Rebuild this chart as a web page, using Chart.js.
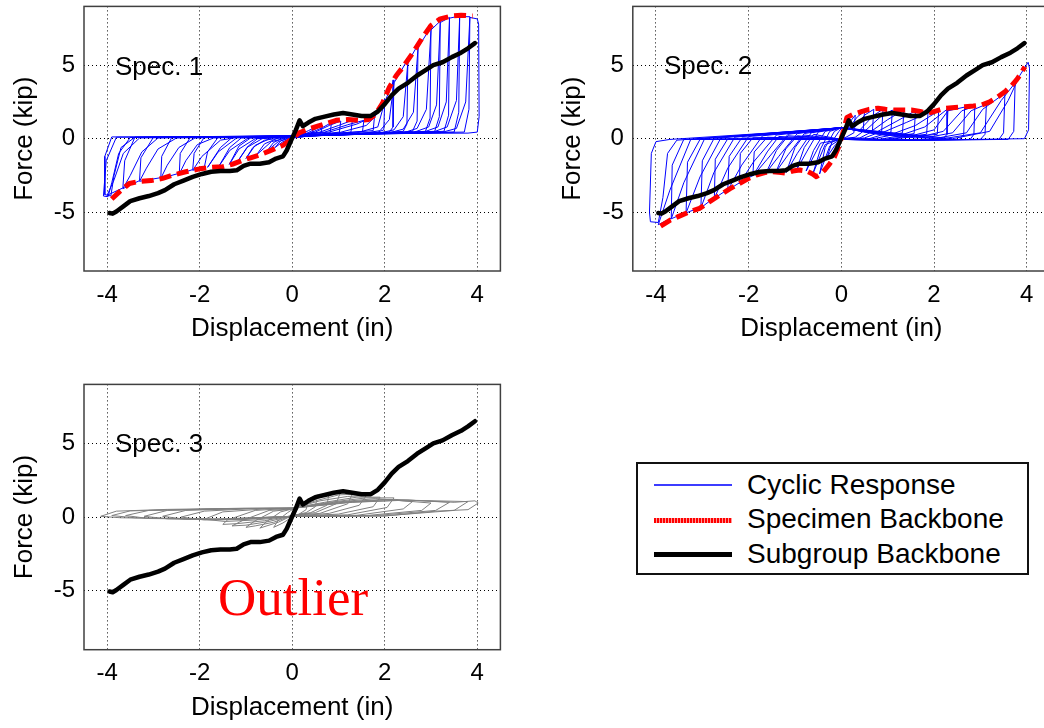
<!DOCTYPE html>
<html><head><meta charset="utf-8">
<script src="https://cdn.jsdelivr.net/npm/chart.js@4/dist/chart.umd.min.js"></script>
<style>
html,body{margin:0;padding:0;background:#fff;overflow:hidden;width:1044px;height:728px;}
.wrap{position:absolute;}
canvas{display:block;}
.txt{position:absolute;font-family:"Liberation Sans",Arial,sans-serif;color:#000;white-space:nowrap;line-height:1;}
#legend{position:absolute;left:636px;top:462px;width:389px;height:109px;border:2px solid #111;background:#fff;}
.ls{position:absolute;left:16px;width:78px;}
</style></head><body>
<div class="wrap" style="left:0;top:0;"><canvas id="c1" width="520" height="350"></canvas></div>
<div class="wrap" style="left:540px;top:0;"><canvas id="c2" width="520" height="350"></canvas></div>
<div class="wrap" style="left:0;top:370px;"><canvas id="c3" width="520" height="358"></canvas></div>

<div class="txt" style="left:115px;top:52.5px;font-size:26px;">Spec. 1</div>
<div class="txt" style="left:664px;top:52px;font-size:26px;">Spec. 2</div>
<div class="txt" style="left:115px;top:429.5px;font-size:26px;">Spec. 3</div>
<div class="txt" style="left:218px;top:570.5px;font-size:53px;font-family:'Liberation Serif','Times New Roman',serif;color:#ff0000;">Outlier</div>

<div id="legend">
  <div class="ls" style="top:20px;height:1.5px;background:#3c3cff;"></div>
  <div class="ls" style="top:54px;height:5px;background:repeating-linear-gradient(90deg,#ff0000 0 2px,#ff9a9a 2px 3px);"></div>
  <div class="ls" style="top:88px;height:5px;background:#000;"></div>
  <div class="txt" style="left:109px;top:7px;font-size:28px;">Cyclic Response</div>
  <div class="txt" style="left:109px;top:40.5px;font-size:28px;">Specimen Backbone</div>
  <div class="txt" style="left:109px;top:75.5px;font-size:28px;">Subgroup Backbone</div>
</div>

<script>
// ---------------- data ----------------
const xTicks = [-4, -2, 0, 2, 4];
const yTicks = [-5, 0, 5];

const subgroupBackbone = [
 [-3.95,-5.05],[-3.88,-5.1],[-3.8,-4.95],[-3.65,-4.6],[-3.5,-4.25],[-3.3,-4.05],[-3.1,-3.9],[-2.9,-3.7],
 [-2.75,-3.5],[-2.55,-3.1],[-2.35,-2.85],[-2.15,-2.6],[-1.95,-2.4],[-1.75,-2.25],[-1.55,-2.2],[-1.35,-2.2],
 [-1.2,-2.15],[-1.05,-1.85],[-0.9,-1.7],[-0.7,-1.7],[-0.5,-1.6],[-0.35,-1.35],[-0.2,-1.2],[-0.12,-0.8],
 [-0.02,-0.1],[0.08,0.6],[0.16,1.25],[0.23,0.85],[0.35,1.1],[0.5,1.35],[0.7,1.5],[0.9,1.65],[1.1,1.75],
 [1.3,1.65],[1.5,1.55],[1.7,1.55],[1.85,1.85],[2.0,2.35],[2.15,2.95],[2.3,3.4],[2.5,3.8],[2.7,4.3],
 [2.9,4.7],[3.05,5.0],[3.25,5.2],[3.45,5.55],[3.65,5.85],[3.8,6.15],[3.95,6.5]
];

const spec1Backbone = [
 [-3.9,-4.1],[-3.73,-3.6],[-3.52,-3.05],[-3.3,-2.9],[-3.05,-2.85],[-2.8,-2.7],[-2.55,-2.45],[-2.3,-2.25],
 [-2.0,-2.05],[-1.75,-1.95],[-1.5,-1.9],[-1.3,-1.75],[-1.1,-1.5],[-0.9,-1.3],[-0.7,-1.1],[-0.5,-0.85],
 [-0.35,-0.65],[-0.2,-0.45],[0,0],[0.15,0.4],[0.35,0.65],[0.55,0.85],[0.75,1.05],[0.95,1.25],[1.2,1.3],
 [1.45,1.25],[1.65,1.3],[1.8,1.65],[1.95,2.4],[2.1,3.5],[2.25,4.3],[2.4,4.9],[2.6,5.8],[2.8,6.8],
 [3.0,7.7],[3.2,8.15],[3.45,8.35],[3.65,8.4],[3.9,8.35]
];

const spec2Backbone = [
 [-3.9,-5.95],[-3.7,-5.55],[-3.52,-5.3],[-3.3,-5.0],[-3.06,-4.74],[-2.85,-4.3],[-2.63,-3.85],[-2.4,-3.4],
 [-2.2,-3.05],[-2.0,-2.7],[-1.84,-2.47],[-1.65,-2.3],[-1.48,-2.24],[-1.3,-2.3],[-1.19,-2.35],[-1.05,-2.2],
 [-0.9,-2.13],[-0.75,-2.2],[-0.62,-2.4],[-0.54,-2.58],[-0.45,-2.4],[-0.35,-2.1],[-0.25,-1.7],[-0.15,-1.25],
 [-0.05,-0.5],[0.05,0.6],[0.12,1.45],[0.25,1.65],[0.43,1.84],[0.6,2.0],[0.79,2.07],[0.95,2.0],[1.15,1.95],
 [1.35,1.95],[1.51,1.95],[1.7,1.85],[1.87,1.73],[2.05,1.9],[2.23,2.07],[2.45,2.12],[2.66,2.18],[2.85,2.22],
 [3.02,2.29],[3.2,2.5],[3.38,2.86],[3.55,3.25],[3.67,3.6],[3.78,4.0],[3.87,4.4],[3.96,4.9]
];

const spec1Cyclic = [
 [0,0],[0.1,0.25],[0.25,0.45],[0.22,0.2],[0,0.05],[-0.1,-0.1],[-0.2,-0.35],[-0.1,-0.05],[0,0.1],
 [0.2,0.3],[0.35,0.55],[0.45,0.7],[0.42,0.3],[0.2,0.1],[0,0.05],[-0.2,-0.2],[-0.37,-0.6],[-0.25,-0.15],[-0.05,0.1],
 [0.3,0.35],[0.5,0.65],[0.65,0.9],[0.62,0.35],[0.3,0.15],[0,0.1],[-0.3,-0.2],[-0.55,-0.85],[-0.4,-0.25],[-0.15,0.1],[0,0.15],
 [0.4,0.4],[0.65,0.75],[0.85,1.1],[0.82,0.4],[0.4,0.2],[0,0.15],[-0.45,-0.2],[-0.77,-1.1],[-0.6,-0.35],[-0.3,0.05],[0,0.15],
 [0.5,0.45],[0.8,0.9],[1.05,1.2],[1.02,0.45],[0.5,0.25],[0,0.15],[-0.6,-0.1],[-0.85,-0.6],[-1.0,-1.35],[-0.8,-0.45],[-0.45,0.05],[0,0.2],
 [0.6,0.45],[1.0,0.9],[1.3,1.25],[1.27,0.45],[0.6,0.25],[0,0.15],[-0.75,0.0],[-0.95,-0.5],[-1.18,-1.55],[-0.98,-0.6],[-0.65,0.0],[0,0.2],
 [0.7,0.45],[1.2,0.95],[1.55,1.25],[1.52,0.5],[0.7,0.3],[0,0.15],[-0.9,0.05],[-1.15,-0.5],[-1.36,-1.75],[-1.15,-0.7],[-0.8,0.0],[0,0.2],
 [0.8,0.45],[1.4,1.0],[1.78,1.55],[1.75,0.55],[0.8,0.3],[0,0.15],[-1.1,0.05],[-1.35,-0.6],[-1.58,-1.85],[-1.35,-0.8],[-0.95,0.05],[0,0.2],
 [1.0,0.4],[1.6,0.9],[1.78,1.45],[2.0,2.7],[1.98,0.6],[1.85,0.45],[1.0,0.3],[0,0.15],[-1.3,0.08],[-1.55,-0.6],[-1.83,-1.95],[-1.6,-0.9],[-1.2,0.05],[0,0.2],
 [1.4,0.4],[1.85,0.8],[2.0,2.5],[2.2,4.0],[2.18,0.8],[2.1,0.45],[1.2,0.3],[0,0.15],[-1.6,0.1],[-1.83,-0.9],[-1.9,-1.95],[-2.15,-2.15],[-1.95,-1.2],[-1.55,-0.1],[-1.2,0.08],[0,0.2],
 [1.6,0.4],[1.9,0.55],[2.1,1.3],[2.2,3.8],[2.5,5.4],[2.48,1.0],[2.4,0.5],[1.3,0.3],[0,0.15],[-1.9,0.1],[-2.12,-1.0],[-2.15,-2.1],[-2.44,-2.4],[-2.3,-1.5],[-2.05,-0.4],[-1.7,0.05],[0,0.2],
 [1.9,0.4],[2.2,0.6],[2.4,1.5],[2.5,5.2],[2.72,6.4],[2.7,1.2],[2.6,0.5],[1.4,0.3],[0,0.15],[-2.2,0.1],[-2.42,-1.0],[-2.44,-2.35],[-2.84,-2.7],[-2.7,-1.8],[-2.45,-0.6],[-2.1,0.05],[0,0.2],
 [2.1,0.4],[2.4,0.65],[2.62,1.8],[2.72,6.2],[3.0,7.6],[2.98,1.4],[2.88,0.5],[1.5,0.3],[0,0.15],[-2.6,0.1],[-2.82,-1.2],[-2.84,-2.65],[-3.3,-2.9],[-3.15,-2.0],[-2.9,-0.7],[-2.5,0.05],[0,0.2],
 [2.4,0.4],[2.7,0.7],[2.9,2.0],[3.0,7.4],[3.2,8.0],[3.18,1.5],[3.08,0.5],[1.6,0.35],[0,0.15],[-3.0,0.1],[-3.27,-1.3],[-3.3,-2.85],[-3.66,-3.4],[-3.5,-2.5],[-3.25,-0.9],[-2.9,0.05],[0,0.2],
 [2.6,0.4],[2.95,0.8],[3.12,2.3],[3.2,7.9],[3.4,8.25],[3.38,1.6],[3.28,0.5],[1.7,0.35],[0,0.15],[-3.4,0.1],[-3.62,-1.5],[-3.66,-3.35],[-4.0,-3.85],[-3.85,-2.8],[-3.65,-1.0],[-3.3,0.05],[0,0.2],
 [2.8,0.4],[3.15,0.8],[3.33,2.5],[3.4,8.2],[3.62,8.35],[3.6,1.8],[3.5,0.45],[1.8,0.35],[0,0.15],[-3.8,0.1],[-4.02,-1.5],[-4.08,-3.9],[-3.98,-3.95],[-3.9,-3.0],[-3.75,-1.0],[-3.5,0.08],[0,0.2],
 [3.0,0.4],[3.35,0.8],[3.55,2.6],[3.62,8.3],[3.84,8.3],[3.82,2.0],[3.72,0.45],[1.9,0.35],[0,0.15],[-3.9,0.12],[-4.05,-1.2],[-4.05,-3.8],[-3.92,-3.9],[-3.85,-2.5],[-3.7,-0.6],[-3.4,0.1],[0,0.2],
 [3.2,0.4],[3.55,0.7],[3.75,2.5],[3.84,8.25],[4.0,8.15],[4.03,7.8],[4.04,1.5],[4.0,0.45],[3.8,0.38],[2.0,0.35],[0,0.15]
];

const spec2Cyclic = [
 [0,0],[0.15,1.0],[0.3,1.6],[0.27,0.4],[0.1,0.1],[0,0.0],[-0.15,-0.5],[-0.3,-1.2],[-0.2,-0.2],[-0.05,0.5],[0,0.7],
 [0.2,0.9],[0.35,1.5],[0.5,1.85],[0.47,0.5],[0.3,0.1],[0,0],[-0.25,-0.5],[-0.47,-2.4],[-0.35,-0.6],[-0.15,0.5],[0,0.75],
 [0.3,0.8],[0.5,1.6],[0.7,2.0],[0.67,0.5],[0.4,0.05],[0,0],[-0.35,-0.4],[-0.61,-2.35],[-0.45,-0.7],[-0.25,0.5],[0,0.75],
 [0.4,0.6],[0.7,1.6],[0.9,2.0],[0.87,0.5],[0.5,0.05],[0,-0.05],[-0.45,-0.3],[-0.76,-2.2],[-0.6,-0.8],[-0.35,0.5],[0,0.75],
 [0.5,0.5],[0.85,1.5],[1.1,1.95],[1.07,0.45],[0.6,0.0],[0,-0.05],[-0.6,0.3],[-0.8,-0.6],[-0.97,-2.15],[-0.75,-0.9],[-0.5,0.45],[0,0.75],
 [0.6,0.4],[1.0,1.3],[1.35,1.95],[1.32,0.4],[0.7,0.0],[0,-0.05],[-0.8,0.25],[-1.0,-0.6],[-1.19,-2.3],[-0.95,-1.0],[-0.65,0.4],[0,0.75],
 [0.7,0.35],[1.2,1.2],[1.6,1.9],[1.57,0.35],[0.8,-0.05],[0,-0.05],[-0.95,0.2],[-1.2,-0.7],[-1.41,-2.25],[-1.15,-1.1],[-0.8,0.35],[0,0.75],
 [0.8,0.3],[1.4,1.1],[1.87,1.75],[1.84,0.3],[0.9,-0.05],[0,-0.05],[-1.15,0.2],[-1.4,-0.8],[-1.62,-2.3],[-1.35,-1.2],[-0.95,0.35],[0,0.75],
 [1.0,0.2],[1.6,0.9],[2.1,1.9],[2.07,0.3],[1.0,-0.05],[0,-0.05],[-1.35,0.15],[-1.6,-0.9],[-1.91,-2.55],[-1.6,-1.4],[-1.15,0.3],[0,0.75],
 [1.2,0.15],[1.8,0.8],[2.3,2.05],[2.28,0.3],[2.2,0.0],[1.0,-0.1],[0,-0.05],[-1.6,0.1],[-1.88,-0.9],[-1.91,-2.5],[-2.2,-3.05],[-1.9,-1.6],[-1.4,0.25],[0,0.75],
 [1.4,0.1],[2.0,0.6],[2.3,1.9],[2.66,2.15],[2.64,0.3],[2.55,-0.05],[1.2,-0.1],[0,-0.05],[-1.9,0.1],[-2.18,-1.0],[-2.2,-3.0],[-2.45,-3.5],[-2.15,-1.8],[-1.7,0.2],[0,0.75],
 [1.6,0.05],[2.2,0.5],[2.6,1.9],[2.88,2.2],[2.86,0.3],[2.78,-0.05],[1.3,-0.1],[0,-0.05],[-2.15,0.05],[-2.42,-1.2],[-2.45,-3.45],[-2.74,-4.05],[-2.45,-2.0],[-2.0,0.15],[0,0.75],
 [1.8,0.05],[2.4,0.4],[2.8,1.9],[3.13,2.35],[3.1,0.3],[3.0,-0.05],[1.4,-0.1],[0,-0.05],[-2.45,0.0],[-2.72,-1.4],[-2.74,-4.0],[-3.03,-4.7],[-2.75,-2.3],[-2.3,0.1],[0,0.75],
 [2.0,0.0],[2.7,0.4],[3.05,2.0],[3.53,3.1],[3.5,0.4],[3.4,-0.05],[1.5,-0.1],[0,-0.05],[-2.75,0.0],[-3.0,-1.5],[-3.03,-4.65],[-3.35,-5.05],[-3.05,-2.6],[-2.6,0.05],[0,0.75],
 [2.2,0.0],[3.0,0.4],[3.45,2.6],[3.75,3.8],[3.72,0.5],[3.6,-0.05],[1.6,-0.1],[0,-0.05],[-3.05,-0.05],[-3.32,-1.6],[-3.35,-5.0],[-3.67,-5.45],[-3.4,-3.0],[-2.95,0.0],[0,0.75],
 [2.4,0.0],[3.2,0.5],[3.6,2.6],[3.85,4.3],[4.03,5.2],[4.06,4.8],[4.04,0.6],[3.95,0.0],[1.7,-0.1],[0,-0.05],[-3.4,-0.05],[-3.65,-1.8],[-3.67,-5.4],[-3.95,-5.85],[-3.7,-3.5],[-3.25,-0.05],[0,0.75],
 [-0.5,0.6],[-3.7,-0.05],[-4.0,-0.2],[-4.1,-1.0],[-4.14,-5.0],[-4.12,-5.65],[-3.95,-5.7],[-3.85,-4.0],[-3.75,-1.0],[-3.55,-0.1],[0,0.75]
];

const spec3Cyclic = [
 [0,0],[0.15,0.7],[0.35,1.2],[0.3,0.5],[0.1,0.1],[0,0],[-0.2,-0.4],[-0.4,-0.7],[-0.3,-0.2],[-0.1,0.3],[0,0.5],
 [0.2,0.9],[0.4,1.3],[0.55,1.5],[0.5,0.7],[0.3,0.3],[0,0.1],[-0.3,-0.35],[-0.7,-0.75],[-0.55,-0.3],[-0.25,0.35],[0,0.55],
 [0.3,1.0],[0.6,1.45],[0.8,1.65],[0.75,0.8],[0.4,0.3],[0,0.1],[-0.4,-0.35],[-0.8,-0.6],[-1.0,-0.7],[-0.8,-0.25],[-0.4,0.4],[0,0.55],
 [0.4,1.1],[0.8,1.55],[1.05,1.75],[0.95,0.9],[0.5,0.3],[0,0.1],[-0.5,-0.3],[-1.0,-0.55],[-1.3,-0.6],[-1.05,-0.2],[-0.5,0.45],[0,0.55],
 [0.5,1.1],[1.0,1.5],[1.3,1.55],[1.2,0.9],[0.6,0.25],[0,0.1],[-0.6,-0.25],[-1.2,-0.45],[-1.5,-0.5],[-1.4,-0.2],[-0.8,0.45],[0,0.6],
 [0.6,1.1],[1.2,1.4],[1.6,1.45],[1.45,0.8],[0.8,0.25],[0,0.05],[-0.8,-0.2],[-1.45,-0.3],[-1.9,-0.15],[-1.5,0.35],[-0.6,0.55],[0,0.6],
 [0.7,1.0],[1.4,1.35],[1.9,1.35],[1.75,0.7],[1.0,0.2],[0,0.05],[-1.0,-0.16],[-1.9,-0.2],[-2.4,0.0],[-1.9,0.4],[-0.8,0.58],[0,0.6],
 [0.8,1.0],[1.6,1.3],[2.2,1.3],[2.05,0.65],[1.2,0.15],[0,0.05],[-1.2,-0.16],[-2.3,-0.15],[-2.8,0.05],[-2.3,0.45],[-1.0,0.58],[0,0.6],
 [0.9,1.0],[1.8,1.25],[2.6,1.05],[2.4,0.55],[1.4,0.12],[0,0.05],[-1.4,-0.16],[-2.7,-0.12],[-3.2,0.05],[-2.7,0.45],[-1.2,0.58],[0,0.6],
 [1.0,1.0],[2.0,1.2],[3.0,0.95],[2.8,0.45],[1.6,0.1],[0,0.05],[-1.5,-0.15],[-3.1,-0.1],[-3.6,0.1],[-3.1,0.45],[-1.4,0.58],[0,0.6],
 [1.1,1.0],[2.2,1.2],[3.4,1.0],[3.1,0.45],[1.8,0.1],[0,0.05],[-1.6,-0.15],[-3.4,-0.05],[-3.9,0.1],[-3.5,0.42],[-1.6,0.55],[0,0.6],
 [1.2,1.0],[2.4,1.15],[3.8,1.05],[3.5,0.45],[2.0,0.08],[0,0.05],[-1.7,-0.15],[-3.7,-0.05],[-4.14,0.05],[-3.8,0.4],[-2.7,0.52],[-1.0,0.6],[0,0.6],
 [1.3,1.0],[2.5,1.15],[3.5,1.0],[3.95,1.1],[4.02,0.95],[3.8,0.5],[3.1,0.4],[2.0,0.07],[0.5,0.05],[0,0.05]
];

// ---------------- charts ----------------
const FONT = 'Liberation Sans, Arial, sans-serif';
Chart.defaults.font.family = FONT;
const toXY = a => a.map(p => ({x: p[0], y: p[1]}));

const framePlugin = {
  id: 'frame',
  afterDatasetsDraw(chart) {
    const {ctx, chartArea: a} = chart;
    ctx.save();
    ctx.setLineDash([]);
    ctx.strokeStyle = '#404040';
    ctx.lineWidth = 1.5;
    ctx.strokeRect(a.left, a.top, a.right - a.left, a.bottom - a.top);
    ctx.restore();
  }
};

function lineDs(arr, color, width, dash, order) {
  return {
    data: toXY(arr), showLine: true, borderColor: color, backgroundColor: color,
    borderWidth: width, borderDash: dash || [], pointRadius: 0, tension: 0,
    fill: false, order: order, borderJoinStyle: 'round', borderCapStyle: dash ? 'butt' : 'round'
  };
}

function makeChart(id, g, datasets) {
  return new Chart(document.getElementById(id), {
    type: 'scatter',
    data: {datasets},
    options: {
      responsive: false, animation: false, events: [],
      layout: {padding: {left: 0, top: g.top, right: g.right, bottom: 0}},
      plugins: {legend: {display: false}, tooltip: {enabled: false}},
      scales: {
        x: {
          type: 'linear', min: -4.5, max: 4.5,
          afterFit: s => { s.height = g.xh; s.paddingLeft = 0; s.paddingRight = 0; s.paddingTop = 0; s.paddingBottom = 0; },
          afterBuildTicks: s => { s.ticks = xTicks.map(v => ({value: v})); },
          ticks: {font: {size: 24}, color: '#000', padding: 9.6, autoSkip: false, maxRotation: 0, callback: v => String(v)},
          grid: {color: '#000', lineWidth: 1, drawTicks: false},
          border: {display: false, dash: [1, 3]},
          title: {display: true, text: 'Displacement (in)', color: '#000', font: {size: 26}, padding: {top: 0, bottom: g.xtb}}
        },
        y: {
          type: 'linear', min: -9, max: 9,
          afterFit: s => { s.width = g.yw; s.paddingLeft = 0; s.paddingRight = 0; s.paddingTop = 0; s.paddingBottom = 0; },
          afterBuildTicks: s => { s.ticks = yTicks.map(v => ({value: v})); },
          ticks: {font: {size: 24}, color: '#000', padding: 9, autoSkip: false, callback: v => String(v)},
          grid: {color: '#000', lineWidth: 1, drawTicks: false},
          border: {display: false, dash: [1, 3]},
          title: {display: true, text: 'Force (kip)', color: '#000', font: {size: 26}, padding: {top: g.ytp, bottom: 0}}
        }
      }
    },
    plugins: [framePlugin]
  });
}

makeChart('c1', {top: 6.4, right: 19.6, xh: 79, yw: 84, xtb: 6, ytp: 9.4}, [
  lineDs(subgroupBackbone, '#000000', 4.5, null, 1),
  lineDs(spec1Backbone, '#ff0000', 5, [12, 6], 2),
  lineDs(spec1Cyclic, '#0000ff', 1, null, 3)
]);
makeChart('c2', {top: 6.4, right: 10.1, xh: 79, yw: 92.8, xtb: 6, ytp: 17.7}, [
  lineDs(subgroupBackbone, '#000000', 4.5, null, 1),
  lineDs(spec2Backbone, '#ff0000', 5, [12, 6], 2),
  lineDs(spec2Cyclic, '#0000ff', 1, null, 3)
]);
makeChart('c3', {top: 14.4, right: 19.6, xh: 78.3, yw: 84, xtb: 4.7, ytp: 9.4}, [
  lineDs(subgroupBackbone, '#000000', 4.5, null, 1),
  lineDs(spec3Cyclic, '#808080', 1, null, 2)
]);
</script>
</body></html>
